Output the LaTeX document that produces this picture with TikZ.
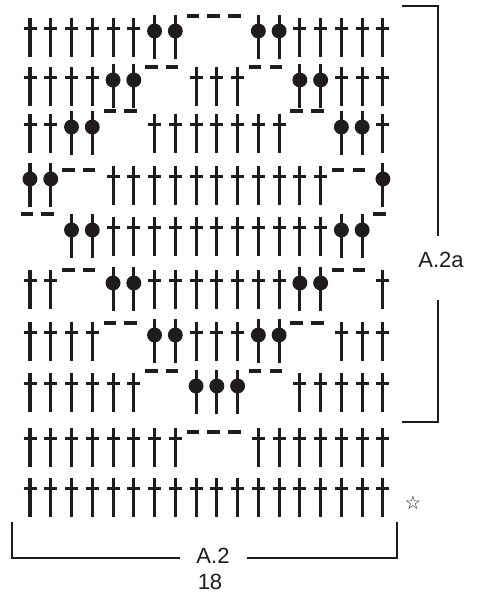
\documentclass[tikz,border=0pt]{standalone}
\usepackage{fontspec}
\setmainfont{Liberation Sans}
\newfontfamily\symfont{DejaVu Sans}
\definecolor{ink}{RGB}{30,28,29}
\begin{document}
\begin{tikzpicture}[x=0.75pt,y=-0.75pt,
  stem/.style={line width=2.3pt,draw=ink},
  crossbar/.style={line width=2.1pt,draw=ink},
  chain/.style={line width=2.3pt,draw=ink},
  bracketline/.style={line width=1.8pt,draw=ink},
  lbl/.style={font=\fontsize{16.5}{19}\selectfont,text=ink,inner sep=0pt}]
\useasboundingbox (0,0) rectangle (476,600);
\foreach \rt/\dy/\codes in {
 18/16/{P,P,P,P,P,P,B,B,D,D,D,B,B,P,P,P,P,P},
 67/67/{P,P,P,P,B,B,D,D,P,P,P,D,D,B,B,P,P,P},
 114/111/{P,P,B,B,D,D,P,P,P,P,P,P,P,D,D,B,B,P},
 166/170/{B,B,D,D,P,P,P,P,P,P,P,P,P,P,P,D,D,B},
 217/214/{D,D,B,B,P,P,P,P,P,P,P,P,P,P,P,B,B,D},
 270/270/{P,P,D,D,B,B,P,P,P,P,P,P,P,B,B,D,D,P},
 322/323/{P,P,P,P,D,D,B,B,P,P,P,B,B,D,D,P,P,P},
 373/371/{P,P,P,P,P,P,D,D,B,B,B,D,D,P,P,P,P,P},
 428/432/{P,P,P,P,P,P,P,P,D,D,D,P,P,P,P,P,P,P},
 478/478/{P,P,P,P,P,P,P,P,P,P,P,P,P,P,P,P,P,P}}{
  \foreach \cd [count=\ci] in \codes {
    \pgfmathsetmacro\xx{30+(\ci-1)*20.76}
    \if\cd P
      \draw[stem] (\xx,\rt) -- (\xx,\rt+39);
      \draw[crossbar] (\xx-6.5,\rt+10.5) -- (\xx+6.5,\rt+10.5);
    \fi
    \if\cd B
      \draw[stem] (\xx,\rt-3) -- (\xx,\rt+41);
      \fill[ink] (\xx,\rt+13) circle[radius=5.6pt];
    \fi
    \if\cd D
      \draw[chain] (\xx-9.5,\dy) -- (\xx+3,\dy);
    \fi
  }
}
% brackets
\draw[bracketline] (402,6) -- (438,6) -- (438,236);
\draw[bracketline] (438,300) -- (438,422) -- (402,422);
\draw[bracketline] (12,522) -- (12,558) -- (180,558);
\draw[bracketline] (247,558) -- (397,558) -- (397,522);
% labels
\node[lbl] (lblA2a) at (441,260) {A.2a};
\node[lbl] (lblA2) at (213,556) {A.2};
\node[lbl] (lbl18) at (210,582) {18};
\node[font=\symfont\fontsize{14}{16}\selectfont,text=ink,inner sep=0pt] (star) at (413,503) {☆};
\end{tikzpicture}
\end{document}
